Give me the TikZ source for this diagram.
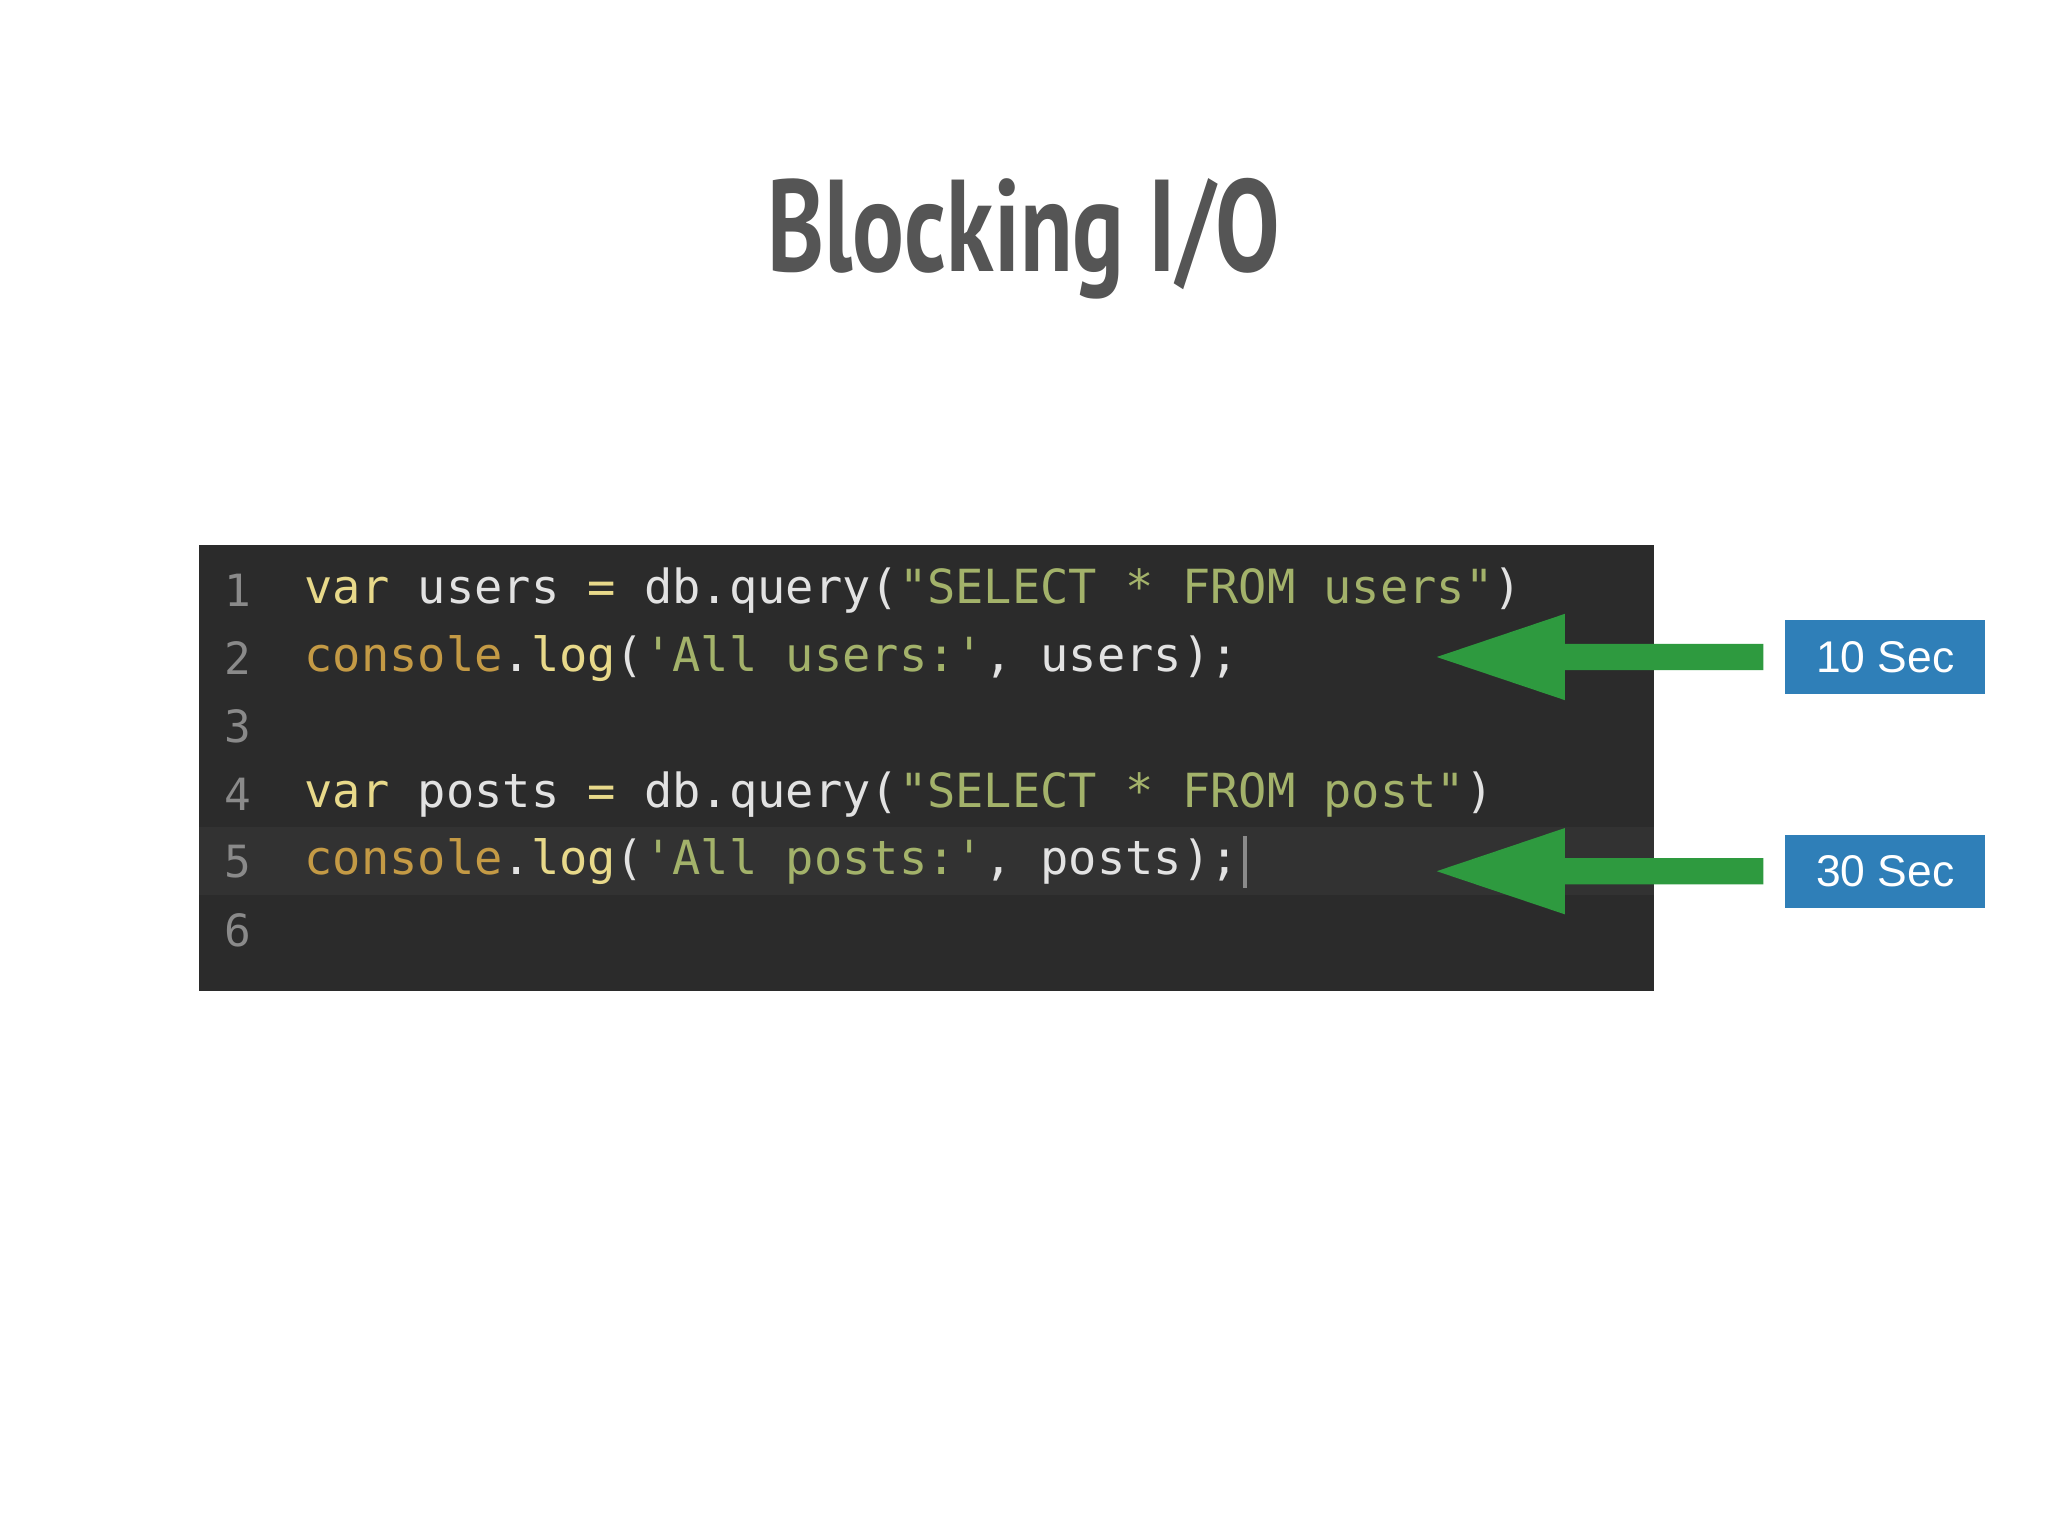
\documentclass[tikz,border=0pt]{standalone}
\usepackage{fontspec}
\usepackage{graphicx}
\newfontfamily\codef{DejaVu Sans Mono}
\newfontfamily\titlef{PT Sans}
\newfontfamily\labf{Liberation Sans}
\definecolor{bg}{HTML}{2B2B2B}
\definecolor{hl}{HTML}{323232}
\definecolor{kw}{HTML}{E8D98A}
\definecolor{id}{HTML}{E2E2E2}
\definecolor{st}{HTML}{A3B26A}
\definecolor{cn}{HTML}{C49A45}
\definecolor{ln}{HTML}{8A8A8A}
\definecolor{arr}{HTML}{2E9A3F}
\definecolor{lab}{HTML}{2F7FB8}
\definecolor{tt}{HTML}{555555}
\begin{document}
\begin{tikzpicture}[x=1pt,y=-1pt,
  code/.style={anchor=west,inner sep=0pt,font=\codef\fontsize{36}{40}\selectfont,text=id},
  num/.style={anchor=center,inner sep=0pt,font=\codef\fontsize{34}{40}\selectfont,text=ln},
  tag/.style={fill=lab,text=white,minimum width=153pt,minimum height=56pt,inner sep=0pt,font=\labf\fontsize{34}{40}\selectfont},
  garrow/.style={fill=arr,draw=none}]
\useasboundingbox (0,0) rectangle (1568,1176);
\fill[white] (0,0) rectangle (1568,1176);
\node[inner sep=0pt,text=tt] (title) at (784,183) {\scalebox{0.74}[1]{\titlef\bfseries\fontsize{100}{110}\selectfont Blocking I/O}};
\fill[bg] (152,417) rectangle (1266,759);
\fill[hl] (152,633) rectangle (1266,685);
\foreach \i/\y in {1/452,2/504,3/556,4/608,5/660,6/712}
  \node[num] (n\i) at (182,\y) {\i};
\node[code] (l1) at (233,452) {\textcolor{kw}{var} users \textcolor{kw}{=} db.query(\textcolor{st}{"SELECT * FROM users"})};
\node[code] (l2) at (233,504) {\textcolor{cn}{console}.\textcolor{kw}{log}(\textcolor{st}{'All users:'}, users);};
\node[code] (l4) at (233,608) {\textcolor{kw}{var} posts \textcolor{kw}{=} db.query(\textcolor{st}{"SELECT * FROM post"})};
\node[code] (l5) at (233,660) {\textcolor{cn}{console}.\textcolor{kw}{log}(\textcolor{st}{'All posts:'}, posts);};
\fill[ln] (l5.east)++(3,-20) rectangle ++(3,40);
\node[tag] (t1) at (1443.5,503) {10 Sec};
\node[tag] (t2) at (1443.5,667) {30 Sec};
\coordinate (a1) at (1350,503);
\coordinate (a2) at (1350,667);
\foreach \a in {a1,a2}{
  \fill[garrow] (\a)++(0,-10) -- ++(-152,0) -- ++(0,-23) -- ++(-98,33) -- ++(98,33) -- ++(0,-23) -- ++(152,0) -- cycle;
}
\end{tikzpicture}
\end{document}
